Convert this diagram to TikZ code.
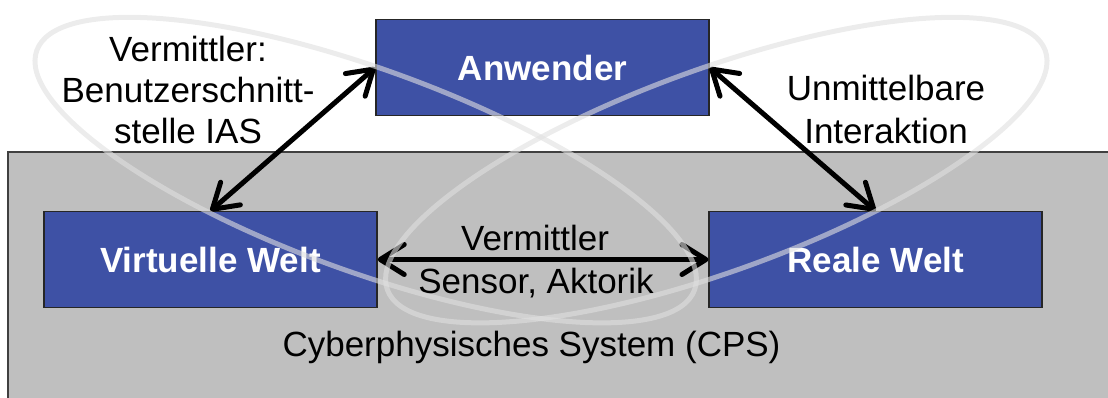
\documentclass[tikz,border=0pt]{standalone}
\usepackage{fontspec}
\setmainfont{Liberation Sans}
\usetikzlibrary{arrows.meta}
\definecolor{boxblue}{RGB}{62,81,165}
\definecolor{cpsgray}{RGB}{191,191,191}
\definecolor{loopgray}{gray}{0.88}
\tikzset{
  worldbox/.style={draw=black!85, line width=1.5pt, fill=boxblue, text=white,
    font=\fontsize{35}{41}\selectfont\bfseries, inner sep=0pt},
  lbl/.style={font=\fontsize{35}{41}\selectfont, text=black, inner sep=0pt},
  biarrow/.style={line width=5pt, {Straight Barb[length=24pt,width=30pt,round]}-{Straight Barb[length=24pt,width=30pt,round]}},
  ovalloop/.style={draw=loopgray, line width=5pt, draw opacity=0.6}
}
\begin{document}
\begin{tikzpicture}[x=1pt,y=1pt]
\useasboundingbox (0,0) rectangle (1108,397);
\clip (0,0) rectangle (1108,397);

% the cyber-physical system as a grey field
\draw[fill=cpsgray, draw=black!75, line width=1.5pt] (8,-10) rectangle (1120,245);

% the three parties
\node[worldbox, minimum width=333pt, minimum height=96pt] (anw) at (542.5,329.5) {Anwender};
\node[worldbox, minimum width=333pt, minimum height=95.6pt] (vw) at (210.5,137.5) {Virtuelle Welt};
\node[worldbox, minimum width=333pt, minimum height=95.6pt] (rw) at (875.7,137.5) {Reale Welt};

% labels
\node[lbl, align=center] (iasl) at (188,307) {Vermittler:\\Benutzerschnitt-\\stelle IAS};
\node[lbl, align=center, font=\fontsize{35}{43}\selectfont] (ial) at (886,288) {Unmittelbare\\Interaktion};
\node[lbl, anchor=base] (vml) at (535,147) {Vermittler};
\node[lbl, anchor=base] (sal) at (536,104) {Sensor, Aktorik};
\node[lbl, anchor=base] (cpsl) at (531.5,40.3) {Cyberphysisches System (CPS)};

% interactions
\draw[biarrow] (anw.west) -- (vw.north);
\draw[biarrow] (anw.east) -- (rw.north);
\draw[biarrow] (vw.east) -- (rw.west);

% translucent loops around the two user links
\draw[ovalloop, rotate around={-20:(365.7,226.9)}] (365.7,226.9) ellipse [x radius=350, y radius=101];
\draw[ovalloop, rotate around={20:(716.3,226.9)}] (716.3,226.9) ellipse [x radius=350, y radius=101];
\end{tikzpicture}
\end{document}
